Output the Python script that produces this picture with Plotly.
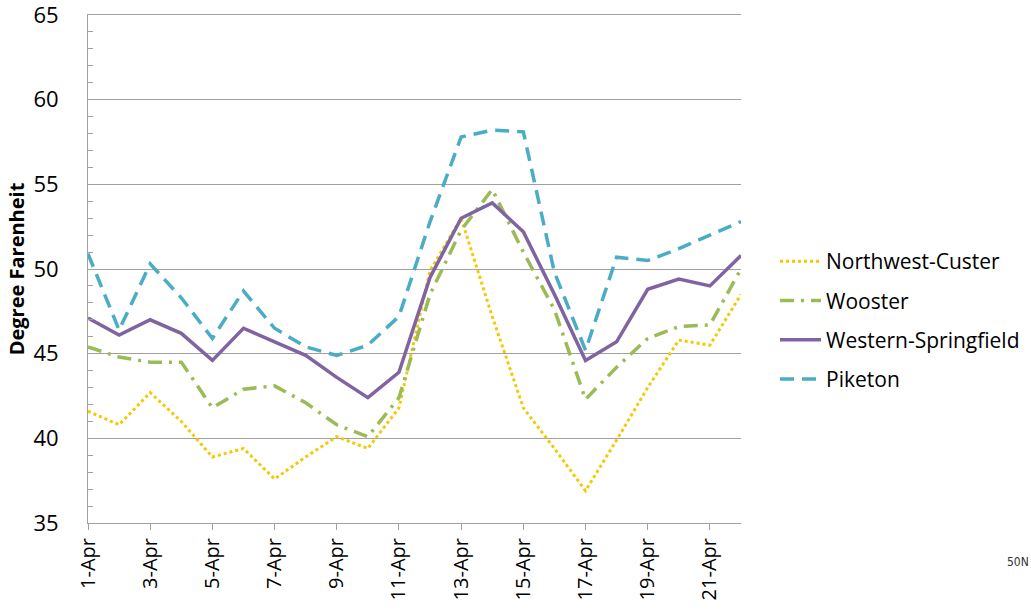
import plotly.graph_objects as go

dates = ["1-Apr", "2-Apr", "3-Apr", "4-Apr", "5-Apr", "6-Apr", "7-Apr", "8-Apr", "9-Apr", "10-Apr", "11-Apr",
         "12-Apr", "13-Apr", "14-Apr", "15-Apr", "16-Apr", "17-Apr", "18-Apr", "19-Apr", "20-Apr", "21-Apr", "22-Apr"]
tick_labels = dates[::2]

northwest_custer = [41.6, 40.8, 42.7, 41.0, 38.9, 39.4, 37.6, 38.9, 40.1, 39.4, 41.8,
                    49.9, 53.0, 47.2, 41.8, 39.4, 36.9, 39.9, 43.0, 45.8, 45.5, 48.5]
wooster = [45.4, 44.8, 44.5, 44.5, 41.8, 42.9, 43.1, 42.1, 40.8, 40.1, 42.4,
           48.5, 52.3, 54.7, 51.0, 47.6, 42.3, 44.2, 45.9, 46.6, 46.7, 50.0]
western_springfield = [47.1, 46.1, 47.0, 46.2, 44.6, 46.5, 45.7, 44.9, 43.6, 42.4, 43.9,
                       49.5, 53.0, 53.9, 52.2, 48.5, 44.6, 45.7, 48.8, 49.4, 49.0, 50.8]
piketon = [50.9, 46.4, 50.3, 48.3, 45.9, 48.7, 46.5, 45.4, 44.9, 45.5, 47.2,
           52.8, 57.8, 58.2, 58.1, 49.8, 45.2, 50.7, 50.5, 51.2, 52.0, 52.8]

series = [
    ("Northwest-Custer", northwest_custer, "#F5C800", "3px,3px", 3),
    ("Wooster", wooster, "#9BBB59", "14px,7px,3px,7px", 3.5),
    ("Western-Springfield", western_springfield, "#8064A2", "solid", 3.5),
    ("Piketon", piketon, "#4BACC6", "14px,8px", 3.5),
]

fig = go.Figure()
for i, (name, vals, color, dash, w) in enumerate(series):
    fig.add_trace(go.Scatter(
        x=dates, y=vals, name=name, mode="lines", legendgroup=f"g{i}",
        line=dict(color=color, dash=dash, width=w),
    ))

font_family = "Open Sans, Liberation Sans, sans-serif"

W, H = 1031, 611
L, R, T, B = 88, 290, 15, 88
pw = W - L - R
ph = H - T - B

fig.update_layout(
    width=W, height=H,
    margin=dict(l=L, r=R, t=T, b=B, autoexpand=False),
    paper_bgcolor="white", plot_bgcolor="white",
    font=dict(family=font_family, color="#000000"),
    showlegend=True,
    legend=dict(
        x=(775 - L) / pw, y=0.555, xanchor="left", yanchor="top",
        font=dict(size=21, color="#000000"),
        tracegroupgap=9, itemwidth=41, bgcolor="rgba(0,0,0,0)",
    ),
    xaxis=dict(
        type="category", range=[0, 21], automargin=False,
        tickmode="array", tickvals=tick_labels, ticktext=tick_labels,
        tickangle=-90, tickfont=dict(size=20, color="#000000"),
        ticks="outside", ticklen=6, tickcolor="#A0A0A0",
        showline=True, linecolor="#A0A0A0", linewidth=1, mirror=True,
        showgrid=False, zeroline=False,
    ),
    yaxis=dict(
        range=[35, 65], dtick=5, tick0=35, automargin=False,
        tickfont=dict(size=22, color="#000000"),
        ticklabelstandoff=24, ticklabeloverflow="allow",
        showline=True, linecolor="#A0A0A0", linewidth=1,
        showgrid=True, gridcolor="#A0A0A0", gridwidth=1,
        zeroline=False, ticks="",
        minor=dict(dtick=1, ticks="inside", ticklen=5, tickcolor="#A0A0A0", showgrid=False),
        title=dict(text="<b>Degree Farenheit</b>", font=dict(size=20, color="#000000"), standoff=3),
    ),
    annotations=[dict(
        text="50N", x=(1018 - L) / pw, y=(523 - 562) / ph, xref="paper", yref="paper",
        xanchor="center", yanchor="middle",
        showarrow=False, font=dict(size=12, color="#333333", family="DejaVu Sans Condensed, DejaVu Sans"),
    )],
)

# remove the browser's default 8px body margin so the figure fills the window exactly
fig.write_html(
    "out.html",
    config={"displayModeBar": False},
    post_script="document.body.style.margin='0';document.body.style.overflow='hidden';",
)
